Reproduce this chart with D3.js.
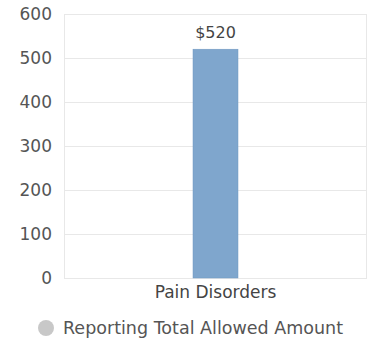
<!DOCTYPE html>
<html><head><meta charset="utf-8">
<script src="https://cdn.jsdelivr.net/npm/d3@7"></script>
<style>body{margin:0;background:#fff;} svg{display:block;font-family:"DejaVu Sans",sans-serif;}</style>
</head><body>
<svg id="c" width="372" height="341"></svg>
<script>
const categories = ["Pain Disorders"];
const values = [520];
const valueLabels = ["$520"];
const yTicks = [0, 100, 200, 300, 400, 500, 600];
const seriesName = "Reporting Total Allowed Amount";

const svg = d3.select("#c");
const m = {l: 64, r: 367, t: 14, b: 278};
const x = d3.scaleBand().domain(categories).range([m.l, m.r]).paddingInner(0.3).paddingOuter(0.8);
const y = d3.scaleLinear().domain([0, 600]).range([m.b, m.t]);

// gridlines
svg.append("g").selectAll("line").data(yTicks).join("line")
  .attr("x1", m.l).attr("x2", m.r).attr("y1", d => y(d)+0.5).attr("y2", d => y(d)+0.5)
  .attr("stroke", "#e8e8e8").attr("stroke-width", 1);
// vertical borders
svg.append("line").attr("x1", m.l+0.5).attr("x2", m.l+0.5).attr("y1", m.t).attr("y2", m.b).attr("stroke", "#e8e8e8");
svg.append("line").attr("x1", m.r-0.5).attr("x2", m.r-0.5).attr("y1", m.t).attr("y2", m.b).attr("stroke", "#e8e8e8");

// y axis
const yAxis = d3.axisLeft(y).tickValues(yTicks).tickSize(0).tickPadding(12);
const ga = svg.append("g").attr("transform", `translate(${m.l},0)`).call(yAxis);
ga.select(".domain").remove();
ga.selectAll("text").attr("font-size", 17).attr("fill", "#555").attr("font-family", "DejaVu Sans, sans-serif");

// bars
const bw = 45;
svg.append("g").selectAll("rect").data(values).join("rect")
  .attr("x", (d,i) => x(categories[i]) + x.bandwidth()/2 - bw/2)
  .attr("width", bw)
  .attr("y", d => y(d))
  .attr("height", d => y(0) - y(d))
  .attr("fill", "#7fa6cd").attr("stroke", "#6f98c2").attr("stroke-width", 0.5);

// value labels
svg.append("g").selectAll("text").data(values).join("text")
  .attr("x", (d,i) => x(categories[i]) + x.bandwidth()/2)
  .attr("y", d => y(d) - 11)
  .attr("text-anchor", "middle").attr("font-size", 16).attr("fill", "#444")
  .text((d,i) => valueLabels[i]);

// x axis
const xAxis = d3.axisBottom(x).tickSize(0).tickPadding(8);
const gx = svg.append("g").attr("transform", `translate(0,${m.b})`).call(xAxis);
gx.select(".domain").remove();
gx.selectAll("text").attr("font-size", 17).attr("fill", "#444").attr("font-family", "DejaVu Sans, sans-serif");

// legend
const lg = svg.append("g");
lg.append("circle").attr("cx", 46).attr("cy", 328).attr("r", 8).attr("fill", "#c8c8c8");
lg.append("text").attr("x", 63).attr("y", 334).attr("font-size", 17.5).attr("fill", "#555").text(seriesName);
</script>
</body></html>
